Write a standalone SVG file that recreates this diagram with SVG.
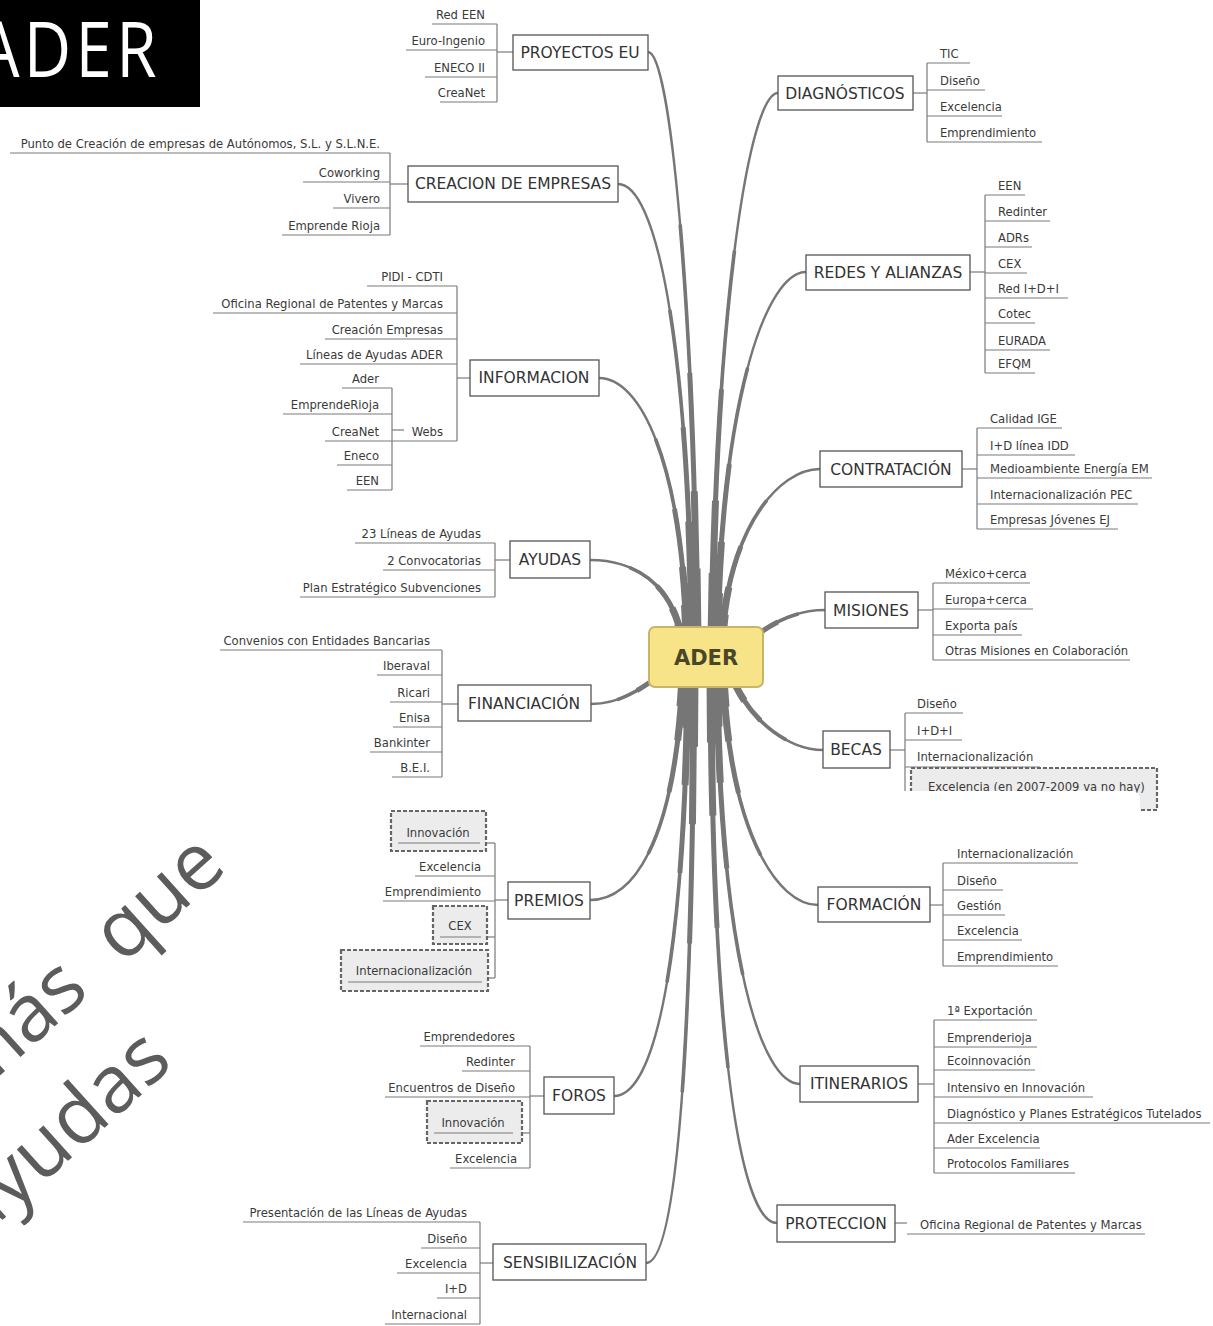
<svg xmlns="http://www.w3.org/2000/svg" xmlns:xlink="http://www.w3.org/1999/xlink" width="1213" height="1326" viewBox="0 0 1213 1326">
<style>
.mn rect{fill:#fff;stroke:#555;stroke-width:1.3}
.mn text{font-family:"DejaVu Sans",sans-serif;font-size:15.5px;fill:#333;text-anchor:middle}
.it text{font-family:"DejaVu Sans",sans-serif;font-size:11.6px;fill:#3a3a3a}
.it.L text{text-anchor:end}
.it line,.br line{stroke:#7a7a7a;stroke-width:1.2}
.it .db{fill:#ececec;stroke:#666;stroke-width:2.2;stroke-dasharray:4 2}
.it.L text.dt{text-anchor:middle}
.lav{stroke:#c4c2e8;stroke-width:4}
.cn use{fill:none;stroke:#767676;stroke-linecap:butt}
.t1 use{stroke-width:2.4}
.t2 use{stroke-width:3.6;stroke-dasharray:70 200}
.t3 use{stroke-width:5;stroke-dasharray:45 200}
.t4 use{stroke-width:7;stroke-dasharray:25 200}
.t5 use{stroke-width:9;stroke-dasharray:12 200}
.wm{font-family:"Open Sans",sans-serif;font-size:80px;fill:#5c5c5c}
</style>
<defs>
<path id="c1" pathLength="100" d="M697 640C694 300 670 52 648 52"/>
<path id="c2" pathLength="100" d="M692 640C688 330 655 184 618 184"/>
<path id="c3" pathLength="100" d="M687 640C682 460 640 378 599 378"/>
<path id="c4" pathLength="100" d="M682 640C672 580 630 560 590 560"/>
<path id="c5" pathLength="100" d="M670 668C640 690 620 704 591 704"/>
<path id="c6" pathLength="100" d="M683 675C675 850 630 900 590 900"/>
<path id="c7" pathLength="100" d="M688 675C684 990 650 1096 614 1096"/>
<path id="c8" pathLength="100" d="M694 675C692 1110 672 1263 646 1263"/>
<path id="c9" pathLength="100" d="M712 640C716 300 750 93 778 93"/>
<path id="c10" pathLength="100" d="M717 640C722 390 768 272 806 272"/>
<path id="c11" pathLength="100" d="M722 640C728 530 778 469 820 469"/>
<path id="c12" pathLength="100" d="M745 645C770 622 798 610 825 610"/>
<path id="c13" pathLength="100" d="M730 672C748 722 790 750 823 750"/>
<path id="c14" pathLength="100" d="M723 675C730 835 778 905 818 905"/>
<path id="c15" pathLength="100" d="M717 675C720 960 762 1084 800 1084"/>
<path id="c16" pathLength="100" d="M711 675C712 1060 742 1223 777 1223"/>
<g id="cset">
<use xlink:href="#c1"/><use xlink:href="#c2"/><use xlink:href="#c3"/><use xlink:href="#c4"/>
<use xlink:href="#c5"/><use xlink:href="#c6"/><use xlink:href="#c7"/><use xlink:href="#c8"/>
<use xlink:href="#c9"/><use xlink:href="#c10"/><use xlink:href="#c11"/><use xlink:href="#c12"/>
<use xlink:href="#c13"/><use xlink:href="#c14"/><use xlink:href="#c15"/><use xlink:href="#c16"/>
</g>
</defs>
<rect width="1213" height="1326" fill="#fff"/>

<g id="title">
<rect x="0" y="0" width="200" height="107" fill="#000"/>
<text x="187" y="77" text-anchor="end" transform="scale(0.86 1)" font-family="Open Sans, sans-serif" font-size="76" letter-spacing="5" fill="#fff">ADER</text>
</g>

<g id="watermark" class="wm">
<text transform="translate(-25,1098) rotate(-42)">más<tspan dx="42">que</tspan></text>
<text transform="translate(-22,1242) rotate(-42)">ayudas</text>
</g>

<g id="connectors" class="cn">
<g class="t1"><use xlink:href="#cset"/></g>
<g class="t2"><use xlink:href="#cset"/></g>
<g class="t3"><use xlink:href="#cset"/></g>
<g class="t4"><use xlink:href="#cset"/></g>
<g class="t5"><use xlink:href="#cset"/></g>
</g>

<g id="sub-connectors" class="br">
<line class="lav" x1="497" y1="52" x2="513" y2="52"/><line x1="497" y1="24" x2="497" y2="102"/>
<line class="lav" x1="390" y1="184" x2="408" y2="184"/><line x1="390" y1="153" x2="390" y2="235"/>
<line class="lav" x1="457" y1="378" x2="470" y2="378"/><line x1="457" y1="286" x2="457" y2="441"/>
<line class="lav" x1="392" y1="430" x2="404" y2="430"/><line x1="392" y1="388" x2="392" y2="490"/>
<line class="lav" x1="495" y1="560" x2="510" y2="560"/><line x1="495" y1="543" x2="495" y2="597"/>
<line class="lav" x1="442" y1="704" x2="458" y2="704"/><line x1="442" y1="650" x2="442" y2="777"/>
<line class="lav" x1="495" y1="900" x2="508" y2="900"/><line x1="495" y1="843" x2="495" y2="978"/>
<line x1="486" y1="843" x2="495" y2="843"/><line x1="487" y1="937" x2="495" y2="937"/><line x1="488" y1="978" x2="495" y2="978"/>
<line class="lav" x1="530" y1="1096" x2="544" y2="1096"/><line x1="530" y1="1046" x2="530" y2="1168"/>
<line x1="522" y1="1133" x2="530" y2="1133"/>
<line class="lav" x1="480" y1="1263" x2="493" y2="1263"/><line x1="480" y1="1222" x2="480" y2="1324"/>
<line class="lav" x1="913" y1="93" x2="927" y2="93"/><line x1="927" y1="63" x2="927" y2="142"/>
<line class="lav" x1="970" y1="272" x2="985" y2="272"/><line x1="985" y1="195" x2="985" y2="373"/>
<line class="lav" x1="962" y1="469" x2="977" y2="469"/><line x1="977" y1="428" x2="977" y2="529"/>
<line class="lav" x1="918" y1="610" x2="933" y2="610"/><line x1="933" y1="583" x2="933" y2="660"/>
<line class="lav" x1="890" y1="750" x2="905" y2="750"/><line x1="905" y1="713" x2="905" y2="800"/>
<line class="lav" x1="930" y1="905" x2="943" y2="905"/><line x1="943" y1="863" x2="943" y2="966"/>
<line class="lav" x1="918" y1="1084" x2="934" y2="1084"/><line x1="934" y1="1020" x2="934" y2="1173"/>
<line class="lav" x1="895" y1="1223" x2="907" y2="1223"/>
</g>

<g id="center">
<rect x="649" y="627" width="114" height="60" rx="6" fill="#f8e488" stroke="#c8b56a" stroke-width="2"/>
<text x="706" y="665" text-anchor="middle" font-family="DejaVu Sans, sans-serif" font-weight="bold" font-size="21" fill="#4a4628">ADER</text>
</g>

<g id="n-proyectos" class="mn"><rect x="513" y="35" width="135" height="35"/><text x="580" y="58">PROYECTOS EU</text></g>
<g id="n-creacion" class="mn"><rect x="408" y="166" width="210" height="36"/><text x="513" y="189">CREACION DE EMPRESAS</text></g>
<g id="n-informacion" class="mn"><rect x="470" y="360" width="129" height="36"/><text x="534" y="383">INFORMACION</text></g>
<g id="n-ayudas" class="mn"><rect x="510" y="541" width="80" height="37"/><text x="550" y="565">AYUDAS</text></g>
<g id="n-financiacion" class="mn"><rect x="458" y="685" width="133" height="36"/><text x="524" y="709">FINANCIACIÓN</text></g>
<g id="n-premios" class="mn"><rect x="508" y="882" width="82" height="37"/><text x="549" y="906">PREMIOS</text></g>
<g id="n-foros" class="mn"><rect x="544" y="1077" width="70" height="37"/><text x="579" y="1101">FOROS</text></g>
<g id="n-sensibilizacion" class="mn"><rect x="493" y="1244" width="153" height="36"/><text x="570" y="1268">SENSIBILIZACIÓN</text></g>
<g id="n-diagnosticos" class="mn"><rect x="778" y="76" width="135" height="34"/><text x="845" y="99">DIAGNÓSTICOS</text></g>
<g id="n-redes" class="mn"><rect x="806" y="255" width="164" height="35"/><text x="888" y="278">REDES Y ALIANZAS</text></g>
<g id="n-contratacion" class="mn"><rect x="820" y="451" width="142" height="36"/><text x="891" y="475">CONTRATACIÓN</text></g>
<g id="n-misiones" class="mn"><rect x="825" y="592" width="93" height="36"/><text x="871" y="616">MISIONES</text></g>
<g id="n-becas" class="mn"><rect x="823" y="731" width="67" height="37"/><text x="856" y="755">BECAS</text></g>
<g id="n-formacion" class="mn"><rect x="818" y="887" width="112" height="35"/><text x="874" y="910">FORMACIÓN</text></g>
<g id="n-itinerarios" class="mn"><rect x="800" y="1066" width="118" height="36"/><text x="859" y="1089">ITINERARIOS</text></g>
<g id="n-proteccion" class="mn"><rect x="777" y="1205" width="118" height="37"/><text x="836" y="1229">PROTECCION</text></g>

<g id="s-proyectos" class="it L">
<text x="485" y="19">Red EEN</text><line x1="432" y1="24" x2="497" y2="24"/>
<text x="485" y="45">Euro-Ingenio</text><line x1="406" y1="50" x2="497" y2="50"/>
<text x="485" y="72">ENECO II</text><line x1="425" y1="77" x2="497" y2="77"/>
<text x="485" y="97">CreaNet</text><line x1="440" y1="102" x2="497" y2="102"/>
</g>
<g id="s-creacion" class="it L">
<text x="380" y="148">Punto de Creación de empresas de Autónomos, S.L. y S.L.N.E.</text><line x1="10" y1="153" x2="390" y2="153"/>
<text x="380" y="177">Coworking</text><line x1="303" y1="182" x2="390" y2="182"/>
<text x="380" y="203">Vivero</text><line x1="333" y1="208" x2="390" y2="208"/>
<text x="380" y="230">Emprende Rioja</text><line x1="282" y1="235" x2="390" y2="235"/>
</g>
<g id="s-informacion" class="it L">
<text x="443" y="281">PIDI - CDTI</text><line x1="367" y1="286" x2="457" y2="286"/>
<text x="443" y="308">Oficina Regional de Patentes y Marcas</text><line x1="213" y1="313" x2="457" y2="313"/>
<text x="443" y="334">Creación Empresas</text><line x1="325" y1="339" x2="457" y2="339"/>
<text x="443" y="359">Líneas de Ayudas ADER</text><line x1="300" y1="364" x2="457" y2="364"/>
<text x="443" y="436">Webs</text><line x1="392" y1="441" x2="457" y2="441"/>
</g>
<g id="s-webs" class="it L">
<text x="379" y="383">Ader</text><line x1="342" y1="388" x2="392" y2="388"/>
<text x="379" y="409">EmprendeRioja</text><line x1="283" y1="414" x2="392" y2="414"/>
<text x="379" y="436">CreaNet</text><line x1="325" y1="441" x2="392" y2="441"/>
<text x="379" y="460">Eneco</text><line x1="337" y1="465" x2="392" y2="465"/>
<text x="379" y="485">EEN</text><line x1="347" y1="490" x2="392" y2="490"/>
</g>
<g id="s-ayudas" class="it L">
<text x="481" y="538">23 Líneas de Ayudas</text><line x1="355" y1="543" x2="495" y2="543"/>
<text x="481" y="565">2 Convocatorias</text><line x1="383" y1="570" x2="495" y2="570"/>
<text x="481" y="592">Plan Estratégico Subvenciones</text><line x1="300" y1="597" x2="495" y2="597"/>
</g>
<g id="s-financiacion" class="it L">
<text x="430" y="645">Convenios con Entidades Bancarias</text><line x1="220" y1="650" x2="442" y2="650"/>
<text x="430" y="670">Iberaval</text><line x1="377" y1="675" x2="442" y2="675"/>
<text x="430" y="697">Ricari</text><line x1="390" y1="702" x2="442" y2="702"/>
<text x="430" y="722">Enisa</text><line x1="393" y1="727" x2="442" y2="727"/>
<text x="430" y="747">Bankinter</text><line x1="370" y1="752" x2="442" y2="752"/>
<text x="430" y="772">B.E.I.</text><line x1="392" y1="777" x2="442" y2="777"/>
</g>
<g id="s-premios" class="it L">
<rect class="db" x="391" y="811" width="95" height="40"/><text class="dt" x="438" y="837">Innovación</text><line x1="398" y1="843" x2="480" y2="843"/>
<text x="481" y="871">Excelencia</text><line x1="415" y1="876" x2="495" y2="876"/>
<text x="481" y="896">Emprendimiento</text><line x1="383" y1="901" x2="495" y2="901"/>
<rect class="db" x="433" y="906" width="54" height="38"/><text class="dt" x="460" y="930">CEX</text><line x1="440" y1="937" x2="481" y2="937"/>
<rect class="db" x="341" y="950" width="147" height="41"/><text class="dt" x="414" y="975">Internacionalización</text><line x1="348" y1="982" x2="482" y2="982"/>
</g>
<g id="s-foros" class="it L">
<text x="515" y="1041">Emprendedores</text><line x1="420" y1="1046" x2="530" y2="1046"/>
<text x="515" y="1066">Redinter</text><line x1="462" y1="1071" x2="530" y2="1071"/>
<text x="515" y="1092">Encuentros de Diseño</text><line x1="385" y1="1097" x2="530" y2="1097"/>
<rect class="db" x="427" y="1101" width="95" height="42"/><text class="dt" x="473" y="1127">Innovación</text><line x1="434" y1="1133" x2="513" y2="1133"/>
<text x="517" y="1163">Excelencia</text><line x1="450" y1="1168" x2="530" y2="1168"/>
</g>
<g id="s-sensibilizacion" class="it L">
<text x="467" y="1217">Presentación de las Líneas de Ayudas</text><line x1="243" y1="1222" x2="480" y2="1222"/>
<text x="467" y="1243">Diseño</text><line x1="421" y1="1248" x2="480" y2="1248"/>
<text x="467" y="1268">Excelencia</text><line x1="397" y1="1273" x2="480" y2="1273"/>
<text x="467" y="1293">I+D</text><line x1="437" y1="1298" x2="480" y2="1298"/>
<text x="467" y="1319">Internacional</text><line x1="385" y1="1324" x2="480" y2="1324"/>
</g>

<g id="s-diagnosticos" class="it">
<text x="940" y="58">TIC</text><line x1="927" y1="63" x2="970" y2="63"/>
<text x="940" y="85">Diseño</text><line x1="927" y1="90" x2="985" y2="90"/>
<text x="940" y="111">Excelencia</text><line x1="927" y1="116" x2="1002" y2="116"/>
<text x="940" y="137">Emprendimiento</text><line x1="927" y1="142" x2="1042" y2="142"/>
</g>
<g id="s-redes" class="it">
<text x="998" y="190">EEN</text><line x1="985" y1="195" x2="1025" y2="195"/>
<text x="998" y="216">Redinter</text><line x1="985" y1="221" x2="1050" y2="221"/>
<text x="998" y="242">ADRs</text><line x1="985" y1="247" x2="1032" y2="247"/>
<text x="998" y="268">CEX</text><line x1="985" y1="273" x2="1027" y2="273"/>
<text x="998" y="293">Red I+D+I</text><line x1="985" y1="298" x2="1068" y2="298"/>
<text x="998" y="318">Cotec</text><line x1="985" y1="323" x2="1035" y2="323"/>
<text x="998" y="345">EURADA</text><line x1="985" y1="350" x2="1050" y2="350"/>
<text x="998" y="368">EFQM</text><line x1="985" y1="373" x2="1035" y2="373"/>
</g>
<g id="s-contratacion" class="it">
<text x="990" y="423">Calidad IGE</text><line x1="977" y1="428" x2="1062" y2="428"/>
<text x="990" y="450">I+D línea IDD</text><line x1="977" y1="455" x2="1075" y2="455"/>
<text x="990" y="473">Medioambiente Energía EM</text><line x1="977" y1="478" x2="1152" y2="478"/>
<text x="990" y="499">Internacionalización PEC</text><line x1="977" y1="504" x2="1138" y2="504"/>
<text x="990" y="524">Empresas Jóvenes EJ</text><line x1="977" y1="529" x2="1118" y2="529"/>
</g>
<g id="s-misiones" class="it">
<text x="945" y="578">México+cerca</text><line x1="933" y1="583" x2="1030" y2="583"/>
<text x="945" y="604">Europa+cerca</text><line x1="933" y1="609" x2="1033" y2="609"/>
<text x="945" y="630">Exporta país</text><line x1="933" y1="635" x2="1022" y2="635"/>
<text x="945" y="655">Otras Misiones en Colaboración</text><line x1="933" y1="660" x2="1130" y2="660"/>
</g>
<g id="s-becas" class="it">
<text x="917" y="708">Diseño</text><line x1="905" y1="713" x2="963" y2="713"/>
<text x="917" y="735">I+D+I</text><line x1="905" y1="740" x2="962" y2="740"/>
<text x="917" y="761">Internacionalización</text><line x1="905" y1="767" x2="1040" y2="767"/>
<rect class="db" x="911" y="768" width="246" height="42"/><text x="928" y="791">Excelencia (en 2007-2009 ya no hay)</text>
<rect x="880" y="791" width="260" height="60" rx="8" fill="#fff"/>
</g>
<g id="s-formacion" class="it">
<text x="957" y="858">Internacionalización</text><line x1="943" y1="863" x2="1078" y2="863"/>
<text x="957" y="885">Diseño</text><line x1="943" y1="890" x2="1003" y2="890"/>
<text x="957" y="910">Gestión</text><line x1="943" y1="915" x2="1005" y2="915"/>
<text x="957" y="935">Excelencia</text><line x1="943" y1="940" x2="1022" y2="940"/>
<text x="957" y="961">Emprendimiento</text><line x1="943" y1="966" x2="1058" y2="966"/>
</g>
<g id="s-itinerarios" class="it">
<text x="947" y="1015">1ª Exportación</text><line x1="934" y1="1020" x2="1037" y2="1020"/>
<text x="947" y="1042">Emprenderioja</text><line x1="934" y1="1047" x2="1037" y2="1047"/>
<text x="947" y="1065">Ecoinnovación</text><line x1="934" y1="1070" x2="1035" y2="1070"/>
<text x="947" y="1092">Intensivo en Innovación</text><line x1="934" y1="1097" x2="1093" y2="1097"/>
<text x="947" y="1118">Diagnóstico y Planes Estratégicos Tutelados</text><line x1="934" y1="1123" x2="1210" y2="1123"/>
<text x="947" y="1143">Ader Excelencia</text><line x1="934" y1="1148" x2="1040" y2="1148"/>
<text x="947" y="1168">Protocolos Familiares</text><line x1="934" y1="1173" x2="1075" y2="1173"/>
</g>
<g id="s-proteccion" class="it">
<text x="920" y="1229">Oficina Regional de Patentes y Marcas</text><line x1="907" y1="1234" x2="1145" y2="1234"/>
</g>
</svg>
